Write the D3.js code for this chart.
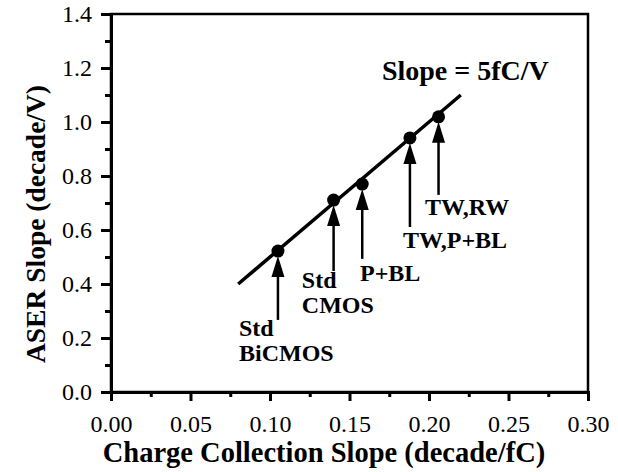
<!DOCTYPE html>
<html><head><meta charset="utf-8">
<script src="https://cdn.jsdelivr.net/npm/d3@7"></script>
<style>
body{margin:0;background:#fff;}
</style></head>
<body><svg id="c" width="618" height="472"></svg>
<script>
// ---- data ----
const categories = ["Std BiCMOS", "Std CMOS", "P+BL", "TW,P+BL", "TW,RW"];
const chargeSlope = [0.105, 0.140, 0.158, 0.188, 0.206];   // x (decade/fC)
const aserSlope   = [0.522, 0.711, 0.770, 0.941, 1.019];   // y (decade/V)
const labelLines  = [["Std","BiCMOS"],["Std","CMOS"],["P+BL"],["TW,P+BL"],["TW,RW"]];
const arrowBase   = [0.267, 0.448, 0.493, 0.611, 0.730];   // arrow tail (y units)
const labelX      = [0.0805, 0.120, 0.1566, 0.1836, 0.1975];
const labelY      = [0.207, 0.385, 0.411, 0.533, 0.656];
const fitX = [0.08, 0.22];           // fitted line, slope 5 fC/V
const fitSlope = 5;
const xTicks = [0.00, 0.05, 0.10, 0.15, 0.20, 0.25, 0.30];
const yTicks = [0.0, 0.2, 0.4, 0.6, 0.8, 1.0, 1.2, 1.4];
const xMinor = [0.025, 0.075, 0.125, 0.175, 0.225, 0.275];
const yMinor = [0.1, 0.3, 0.5, 0.7, 0.9, 1.1, 1.3];

const FONT = "'Liberation Serif', 'Times New Roman', Times, 'DejaVu Serif', serif";

// ---- layout ----
const svg = d3.select("#c");
const L = 111, T = 14, R = 588, B = 392;
const x = d3.scaleLinear().domain([0, 0.3]).range([L, R]);
const y = d3.scaleLinear().domain([0, 1.4]).range([B, T]);

// frame
svg.append("rect").attr("x", L).attr("y", T).attr("width", R - L).attr("height", B - T)
  .attr("fill", "none").attr("stroke", "#000").attr("stroke-width", 2.5);

// axes
const xAxis = svg.append("g").attr("transform", `translate(0,${B})`)
  .call(d3.axisBottom(x).tickValues(xTicks).tickFormat(d3.format(".2f")).tickSize(9).tickPadding(14));
const xAxisMinor = svg.append("g").attr("transform", `translate(0,${B})`)
  .call(d3.axisBottom(x).tickValues(xMinor).tickFormat("").tickSize(5));
const yAxis = svg.append("g").attr("transform", `translate(${L},0)`)
  .call(d3.axisLeft(y).tickValues(yTicks).tickFormat(d3.format(".1f")).tickSize(10).tickPadding(9));
const yAxisMinor = svg.append("g").attr("transform", `translate(${L},0)`)
  .call(d3.axisLeft(y).tickValues(yMinor).tickFormat("").tickSize(6));
[xAxis, xAxisMinor, yAxis, yAxisMinor].forEach(g => {
  g.attr("font-family", null).style("font-family", FONT);
  g.select(".domain").attr("stroke-width", 3).attr("stroke", "#000");
  g.selectAll(".tick line").attr("stroke-width", 3).attr("stroke", "#000");
  g.selectAll(".tick text").attr("font-size", 24).style("font-family", FONT).attr("fill", "#000");
});

function txt(sel) { return sel.style("font-family", FONT).attr("fill", "#000"); }

// axis titles
txt(svg.append("text")).attr("x", 324).attr("y", 462).attr("text-anchor", "middle")
  .attr("font-size", 28.5).attr("font-weight", "bold").text("Charge Collection Slope (decade/fC)");
txt(svg.append("text")).attr("transform", `translate(45,224) rotate(-90)`).attr("text-anchor", "middle")
  .attr("font-size", 27.5).attr("font-weight", "bold").text("ASER Slope (decade/V)");

// fit line
svg.append("line")
  .attr("x1", x(fitX[0])).attr("y1", y(fitX[0] * fitSlope))
  .attr("x2", x(fitX[1])).attr("y2", y(fitX[1] * fitSlope))
  .attr("stroke", "#000").attr("stroke-width", 3.5);
txt(svg.append("text")).attr("x", x(0.1704)).attr("y", y(1.156))
  .attr("font-size", 28).attr("font-weight", "bold").text("Slope = 5fC/V");

// points
const data = categories.map((c, i) => ({c, x: chargeSlope[i], y: aserSlope[i], lines: labelLines[i],
  base: arrowBase[i], lx: labelX[i], ly: labelY[i]}));
svg.selectAll("circle.pt").data(data).join("circle").attr("class", "pt")
  .attr("cx", d => x(d.x)).attr("cy", d => y(d.y)).attr("r", 6.5).attr("fill", "#000");

// arrows
data.forEach(d => {
  const ax = x(d.x), top = y(d.y) + 5, bot = y(d.base);
  svg.append("line").attr("x1", ax).attr("x2", ax).attr("y1", top + 12).attr("y2", bot)
    .attr("stroke", "#000").attr("stroke-width", 2.5);
  svg.append("path").attr("d", `M${ax},${top} L${ax - 6.5},${top + 21} L${ax + 6.5},${top + 21} Z`)
    .attr("fill", "#000");
  const t = txt(svg.append("text")).attr("x", x(d.lx)).attr("y", y(d.ly))
    .attr("font-size", 24).attr("font-weight", "bold");
  d.lines.forEach((ln, k) => t.append("tspan").attr("x", x(d.lx)).attr("dy", k ? 25 : 0).text(ln));
});
</script></body></html>
